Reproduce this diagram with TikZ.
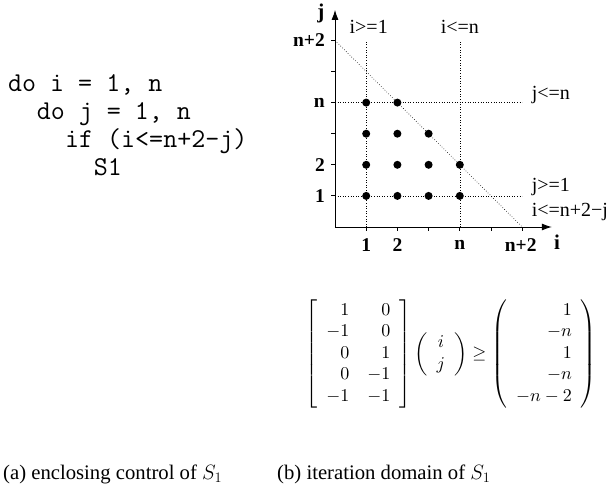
\documentclass[tikz,border=0pt]{standalone}
\usepackage{amsmath}
\usepackage{graphicx}
\usepackage{fontspec}
\setmainfont{Liberation Serif}
\usetikzlibrary{arrows.meta}
\begin{document}
\begin{tikzpicture}[x=1pt,y=-1pt,
  codeline/.style={anchor=base west,inner sep=0pt,font=\fontsize{27.2}{30}\selectfont\ttfamily},
  lbl/.style={inner sep=0pt,font=\fontsize{20}{23}\selectfont},
  ticklbl/.style={inner sep=0pt,font=\fontsize{19.5}{22}\selectfont\bfseries},
  axislbl/.style={inner sep=0pt,font=\fontsize{21}{24}\selectfont\bfseries},
  caption/.style={anchor=base west,inner sep=0pt,font=\fontsize{20.7}{24}\selectfont},
  axis/.style={line width=0.9pt},
  tick/.style={line width=0.9pt},
  guide/.style={dotted,line width=0.6pt},
  pt/.style={fill=black}]
\useasboundingbox (0,0) rectangle (612,486);
% code
\node[codeline] (c1) at (8,92) {do i = 1, n};
\node[codeline] (c2) at (36.6,120) {do j = 1, n};
\node[codeline] (c3) at (65,148) {if (i<=n+2-j)};
\node[codeline] (c4) at (93.6,175.5) {S1};
% graph
\begin{scope}[shift={(335,227)},x=31.2pt,y=31.1pt]
  \coordinate (O) at (0,0);
  \coordinate (xe) at (6.95,0);
  \coordinate (ye) at (0,6.98);
  \draw[axis,-{Latex[length=10pt,width=7pt]}] (O) -- (xe);
  \draw[axis,-{Latex[length=10pt,width=7pt]}] (O) -- (ye);
  \foreach \k in {1,...,6}{
    \draw[tick] (\k,0) -- (\k,-0.13);
    \draw[tick] (0,\k) -- (-0.13,\k);
  }
  \coordinate (v1a) at (1,0); \coordinate (v1b) at (1,6);
  \coordinate (v2a) at (4,0); \coordinate (v2b) at (4,6);
  \coordinate (h1a) at (0,1); \coordinate (h1b) at (6,1);
  \coordinate (h2a) at (0,4); \coordinate (h2b) at (6,4);
  \coordinate (da) at (0,6); \coordinate (db) at (6,0);
  \draw[guide] (v1a) -- (v1b);
  \draw[guide] (v2a) -- (v2b);
  \draw[guide] (h1a) -- (h1b);
  \draw[guide] (h2a) -- (h2b);
  \draw[guide] (da) -- (db);
  \foreach \p/\q in {1/1,2/1,3/1,4/1,1/2,2/2,3/2,4/2,1/3,2/3,3/3,1/4,2/4}
    \fill[pt] (\p,\q) circle[radius=4pt];
  % tick labels
  \node[ticklbl] (xl1) at (1,-0.58) {1};
  \node[ticklbl] (xl2) at (2,-0.58) {2};
  \node[ticklbl] (xln) at (4,-0.58) {n};
  \node[ticklbl] (xln2) at (5.95,-0.58) {n+2};
  \node[ticklbl,anchor=east] (yl1) at (-0.32,1) {1};
  \node[ticklbl,anchor=east] (yl2) at (-0.32,2) {2};
  \node[ticklbl,anchor=east] (yln) at (-0.32,4) {n};
  \node[ticklbl,anchor=east] (yln2) at (-0.32,6) {n+2};
  \node[axislbl] (jl) at (-0.45,6.88) {j};
  \node[axislbl] (il) at (7.12,-0.48) {i};
  % constraint labels
  \node[lbl] (ci1) at (1.08,6.44) {i>=1};
  \node[lbl] (cin) at (4,6.44) {i<=n};
  \node[lbl,anchor=west] (cjn) at (6.3,4.25) {j<=n};
  \node[lbl,anchor=west] (cj1) at (6.3,1.29) {j>=1};
  \node[lbl,anchor=west] (cd) at (6.3,0.48) {i<=n+2−j};
\end{scope}
% inequality
\node[inner sep=0pt,font=\fontsize{10}{12}\selectfont] (ineq) at (451,354)
 {\scalebox{1.8}{$\left[\begin{array}{rr} 1 & 0\\ -1 & 0\\ 0 & 1\\ 0 & -1\\ -1 & -1\end{array}\right]
   \left(\begin{array}{c} i\\ j\end{array}\right) \geq
   \left(\begin{array}{r} 1\\ -n\\ 1\\ -n\\ -n-2\end{array}\right)$}};
% captions
\node[caption] (capa) at (3,479) {(a) enclosing control of $S_1$};
\node[caption] (capb) at (277,479) {(b) iteration domain of $S_1$};
\end{tikzpicture}
\end{document}
